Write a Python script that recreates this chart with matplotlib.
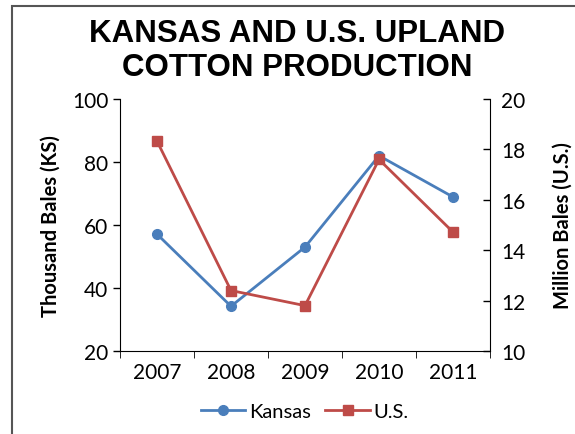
import matplotlib.pyplot as plt
from matplotlib.patches import Rectangle

years = ['2007', '2008', '2009', '2010', '2011']
kansas = [57.1, 34.2, 53.0, 82.0, 68.9]
us = [18.33, 12.4, 11.8, 17.6, 14.72]

blue = '#4a7ebb'
red = '#be4b48'

plt.rcParams['font.family'] = ['Lato', 'DejaVu Sans']

fig = plt.figure(figsize=(5.75, 4.35), dpi=100)
# chart frame (only left/top edges fall inside the picture)
fig.patches.append(Rectangle((12 / 575, -0.05), 1.2, 1 - 7 / 435 + 0.05,
                             transform=fig.transFigure, fill=False,
                             edgecolor='#555555', linewidth=1.5))

ax = fig.add_axes([120 / 575, 1 - 352 / 435, 370 / 575, 252 / 435])
ax2 = ax.twinx()

x = range(len(years))
ax.plot(x, kansas, color=blue, marker='o', markersize=7, linewidth=2, label='Kansas')
ax2.plot(x, us, color=red, marker='s', markersize=7, linewidth=2, label='U.S.')

ax.set_xlim(-0.5, 4.5)
ax.set_ylim(20, 100)
ax.set_yticks([20, 40, 60, 80, 100])
ax2.set_ylim(10, 20)
ax2.set_yticks([10, 12, 14, 16, 18, 20])

ax.set_xticks(list(x))
ax.set_xticklabels(years)
ax.set_xticks([i + 0.5 for i in range(-1, 5)], minor=True)
ax.tick_params(axis='x', which='major', length=0, labelsize=15, pad=8)
ax.tick_params(axis='x', which='minor', length=5, direction='out')
ax.tick_params(axis='y', labelsize=15, length=5, direction='out', width=1)
ax2.tick_params(axis='y', labelsize=15, length=5, direction='in', width=1, pad=8)

for a in (ax, ax2):
    a.spines['top'].set_visible(False)
ax.spines['right'].set_visible(False)
ax2.spines['bottom'].set_visible(False)
ax2.spines['left'].set_visible(False)

ax.set_ylabel('Thousand Bales (KS)', fontsize=14.5, fontweight='bold', labelpad=8)
ax2.set_ylabel('Million Bales (U.S.)', fontsize=14.5, fontweight='bold', labelpad=20)

fig.text(297 / 575, 1 - 51 / 435, 'KANSAS AND U.S. UPLAND\nCOTTON PRODUCTION', ha='center', va='center',
         fontsize=22.5, fontweight='bold', family='Liberation Sans', linespacing=1.2)

h1, l1 = ax.get_legend_handles_labels()
h2, l2 = ax2.get_legend_handles_labels()
fig.legend(h1 + h2, l1 + l2, loc='center', bbox_to_anchor=(305 / 575, 1 - 412 / 435), ncol=2,
           frameon=False, fontsize=14.5, handlelength=2.2, columnspacing=0.7, handletextpad=0.2)

fig.savefig('out.png', dpi=100)
